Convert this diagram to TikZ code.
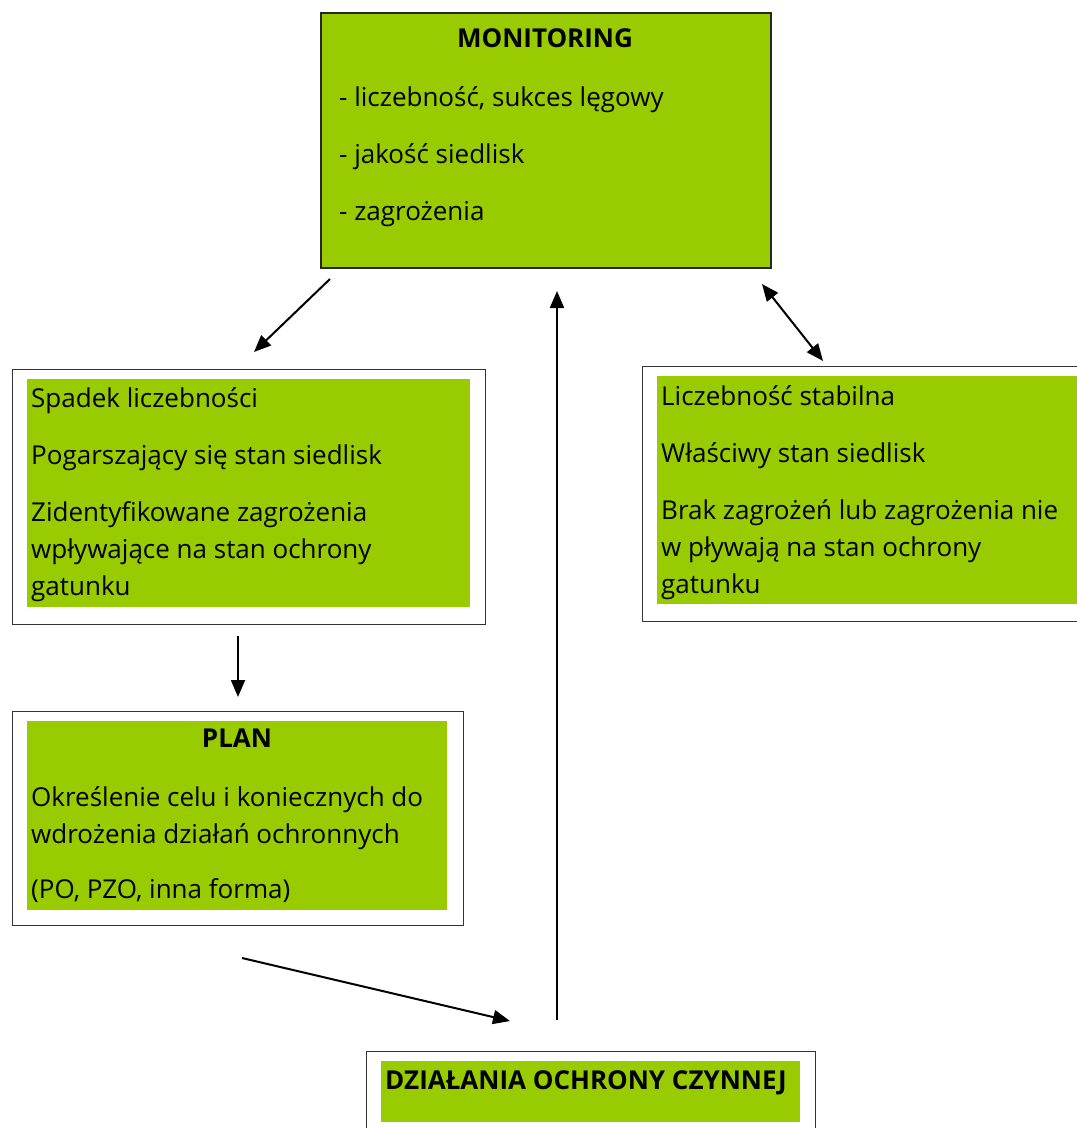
\documentclass[tikz,border=0pt]{standalone}
\usepackage{fontspec}
\setmainfont{Open Sans}
\usetikzlibrary{arrows.meta}
\definecolor{leafgreen}{HTML}{99CC00}

\begin{document}
\begin{tikzpicture}[x=1pt,y=-1pt,
    outerbox/.style={draw=black!80,line width=1.3pt,fill=white,anchor=north west,inner sep=0pt},
    greenbox/.style={fill=leafgreen,anchor=north west,inner sep=0pt},
    boxtext/.style={anchor=base west,inner sep=0pt,align=left,font=\fontsize{26}{37}\selectfont},
    boxtitle/.style={anchor=base,inner sep=0pt,font=\fontsize{26}{37}\selectfont\bfseries},
    tip/.style={-{Triangle[length=17pt,width=14pt]}},
    arr/.style={line width=2pt,tip}]
    \clip (0,0) rectangle (1077,1128);
    \fill[white] (0,0) rectangle (1077,1128);

    % monitoring (text nodes sit on the baseline of their last line)
    \node[greenbox,draw=black!85,line width=1.6pt,minimum width=450pt,minimum height=255pt] (mon) at (320,12) {};
    \node[boxtitle] (montitle) at (545,47) {MONITORING};
    \node[boxtext] (montext) at (339,220) {- liczebność, sukces lęgowy\\[20pt]
        - jakość siedlisk\\[20pt]
        - zagrożenia};

    % spadek
    \node[outerbox,minimum width=473pt,minimum height=255pt] (spadek) at (12,369) {};
    \node[greenbox,minimum width=443pt,minimum height=228pt] (spadekfill) at (27,379) {};
    \node[boxtext] (spadektext) at (31,595) {Spadek liczebności\\[20pt]
        Pogarszający się stan siedlisk\\[20pt]
        Zidentyfikowane zagrożenia\\
        wpływające na stan ochrony\\
        gatunku};

    % stabilna
    \node[outerbox,minimum width=460pt,minimum height=255pt] (stabil) at (642,366) {};
    \node[greenbox,minimum width=430pt,minimum height=228pt] (stabilfill) at (657,376) {};
    \node[boxtext] (stabiltext) at (661,593) {Liczebność stabilna\\[20pt]
        Właściwy stan siedlisk\\[20pt]
        Brak zagrożeń lub zagrożenia nie\\
        w pływają na stan ochrony\\
        gatunku};

    % plan
    \node[outerbox,minimum width=451pt,minimum height=214pt] (plan) at (12,711) {};
    \node[greenbox,minimum width=420pt,minimum height=189pt] (planfill) at (27,721) {};
    \node[boxtitle] (plantitle) at (237,747) {PLAN};
    \node[boxtext] (plantext) at (31,898) {Określenie celu i koniecznych do\\
        wdrożenia działań ochronnych\\[18pt]
        (PO, PZO, inna forma)};

    % dzialania
    \node[outerbox,minimum width=449pt,minimum height=100pt] (dzial) at (366,1051) {};
    \node[greenbox,minimum width=419pt,minimum height=61pt] (dzialfill) at (381,1061) {};
    \node[boxtitle,anchor=base west] (dzialtext) at (385,1089) {DZIAŁANIA OCHRONY CZYNNEJ};

    % arrows
    \coordinate (a1) at (330,279);
    \coordinate (b1) at (254,352);
    \coordinate (a2) at (238,636);
    \coordinate (b2) at (238,697);
    \coordinate (a3) at (242,958);
    \coordinate (b3) at (510,1021);
    \coordinate (a4) at (557,1020);
    \coordinate (b4) at (557,291);
    \coordinate (a5) at (762,284);
    \coordinate (b5) at (823,361);
    \draw[arr] (a1) -- (b1);
    \draw[arr] (a2) -- (b2);
    \draw[arr] (a3) -- (b3);
    \draw[arr] (a4) -- (b4);
    \draw[arr,{Triangle[length=17pt,width=14pt]}-{Triangle[length=17pt,width=14pt]}] (a5) -- (b5);
\end{tikzpicture}
\end{document}
